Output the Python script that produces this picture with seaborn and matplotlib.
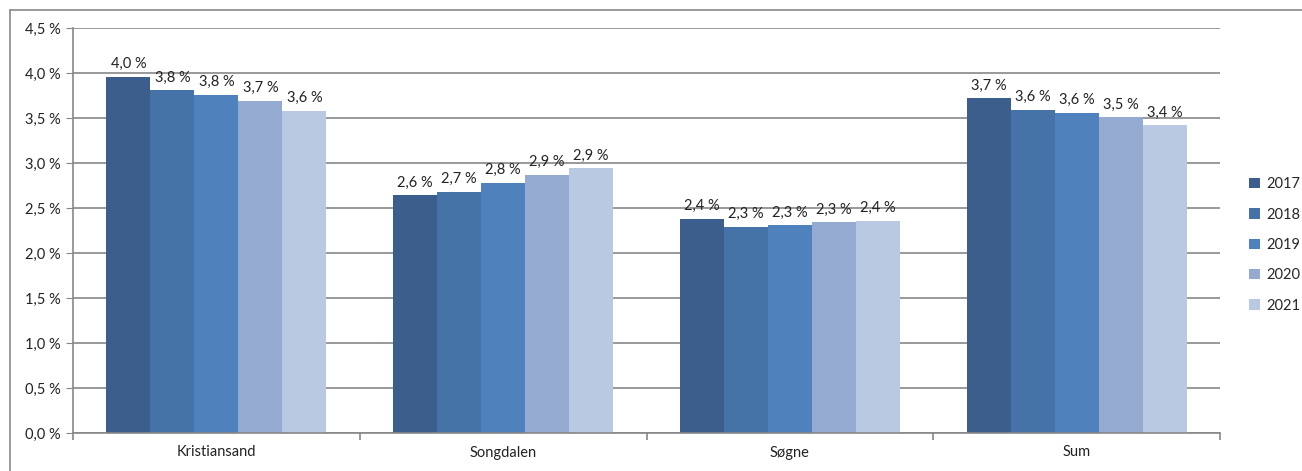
import matplotlib
matplotlib.use("Agg")
import matplotlib.pyplot as plt
from matplotlib.lines import Line2D
from matplotlib.patches import Patch
import seaborn as sns
import pandas as pd

categories = ["Kristiansand", "Songdalen", "Søgne", "Sum"]
years = ["2017", "2018", "2019", "2020", "2021"]
values_2017 = [3.96, 2.64, 2.38, 3.72]
values_2018 = [3.81, 2.68, 2.29, 3.59]
values_2019 = [3.76, 2.78, 2.31, 3.56]
values_2020 = [3.69, 2.87, 2.34, 3.51]
values_2021 = [3.58, 2.94, 2.36, 3.42]
yticks = [0.0, 0.5, 1.0, 1.5, 2.0, 2.5, 3.0, 3.5, 4.0, 4.5]
colors = ["#3B5E8C", "#4572A7", "#4F81BD", "#95AAD0", "#B9C9E2"]

series = [values_2017, values_2018, values_2019, values_2020, values_2021]
rows = []
for year, vals in zip(years, series):
    for cat, v in zip(categories, vals):
        rows.append({"kommune": cat, "year": year, "value": v})
df = pd.DataFrame(rows)

sns.set_style("white")
plt.rcParams["font.family"] = ["Lato", "DejaVu Sans"]

W, H = 1302, 471
fig = plt.figure(figsize=(W / 100, H / 100), dpi=100)
ax = fig.add_axes([73 / W, 1 - 433 / H, (1220 - 73) / W, (433 - 28) / H])

sns.barplot(data=df, x="kommune", y="value", hue="year", order=categories,
            hue_order=years, palette=colors, width=0.767, gap=0,
            saturation=1, linewidth=0, legend=False, ax=ax)

grid_c = "#878787"
ax.set_ylim(0, 4.5)
ax.set_xlim(-0.5, len(categories) - 0.5)
ax.set_yticks(yticks)
ax.set_yticklabels([f"{t:.1f}".replace(".", ",") + " %" for t in yticks])
ax.yaxis.grid(True, color=grid_c, linewidth=1.2)
ax.set_axisbelow(True)
ax.set_xlabel("")
ax.set_ylabel("")
for s in ["top", "right"]:
    ax.spines[s].set_visible(False)
for s in ["left", "bottom"]:
    ax.spines[s].set_color(grid_c)
    ax.spines[s].set_linewidth(1.2)

ax.tick_params(axis="y", which="major", left=True, length=5, color=grid_c,
               labelsize=10.5, labelcolor="#222222", pad=4)
ax.tick_params(axis="x", which="major", length=0, labelsize=10.5,
               labelcolor="#222222", pad=9)
ax.set_xticks([i - 0.5 for i in range(len(categories) + 1)], minor=True)
ax.tick_params(axis="x", which="minor", bottom=True, length=5, color=grid_c,
               width=1.2)

for container in ax.containers:
    labels = [f"{b.get_height():.1f}".replace(".", ",") + " %" for b in container]
    ax.bar_label(container, labels=labels, padding=4, fontsize=10.5,
                 color="#222222")

handles = [Patch(facecolor=c, edgecolor="none") for c in colors]
fig.legend(handles, years, loc="center left", bbox_to_anchor=(1242 / W, 1 - 245 / H),
           frameon=False, fontsize=10.5, handlelength=0.7, handleheight=0.7,
           handletextpad=0.5, labelspacing=1.12, borderpad=0)

# outer frame
fig.add_artist(Line2D([9.5 / W, 9.5 / W], [0, 1 - 10 / H], color="#8a8a8a",
                      linewidth=1.2, transform=fig.transFigure))
fig.add_artist(Line2D([9.5 / W, 1], [1 - 10 / H, 1 - 10 / H], color="#8a8a8a",
                      linewidth=1.2, transform=fig.transFigure))

fig.savefig("out.png", dpi=100)
